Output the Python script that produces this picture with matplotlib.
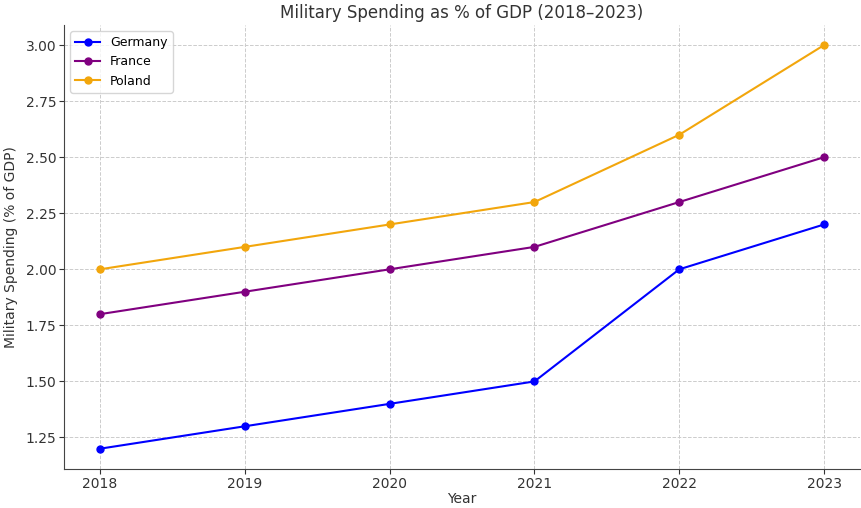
import matplotlib
matplotlib.use("Agg")
import matplotlib.pyplot as plt

years = [2018, 2019, 2020, 2021, 2022, 2023]
germany = [1.2, 1.3, 1.4, 1.5, 2.0, 2.2]
france = [1.8, 1.9, 2.0, 2.1, 2.3, 2.5]
poland = [2.0, 2.1, 2.2, 2.3, 2.6, 3.0]

fig = plt.figure(figsize=(8.62, 5.08), dpi=100)
ax = fig.add_axes([0.074, 0.077, 0.924, 0.874])

ax.plot(years, germany, marker="o", color="blue", label="Germany", markersize=5, linewidth=1.5)
ax.plot(years, france, marker="o", color="purple", label="France", markersize=5, linewidth=1.5)
ax.plot(years, poland, marker="o", color="#f2a60c", label="Poland", markersize=5, linewidth=1.5)

ax.set_title("Military Spending as % of GDP (2018\u20132023)", fontsize=12, color="#333333", pad=5)
ax.set_xlabel("Year", fontsize=10, color="#333333", labelpad=1)
ax.set_ylabel("Military Spending (% of GDP)", fontsize=10, color="#333333", labelpad=5)
ax.set_yticks([1.25, 1.5, 1.75, 2.0, 2.25, 2.5, 2.75, 3.0])
ax.yaxis.set_major_formatter(plt.FormatStrFormatter("%.2f"))
ax.grid(True, linestyle="--", color="#cccccc", linewidth=0.7)
ax.tick_params(labelsize=10, colors="#333333", pad=2)
for s in ["top", "right"]:
    ax.spines[s].set_visible(False)
for s in ["left", "bottom"]:
    ax.spines[s].set_color("#444444")
ax.legend(loc="upper left", fontsize=9)

fig.savefig("out.png", dpi=100)
